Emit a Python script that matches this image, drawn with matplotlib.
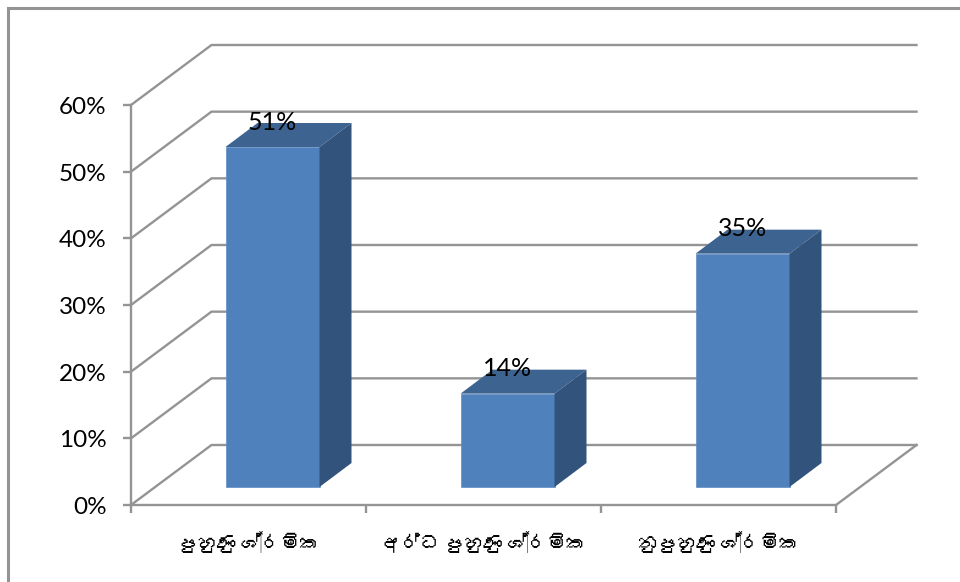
import matplotlib
matplotlib.use("Agg")
import matplotlib.pyplot as plt
from matplotlib import font_manager as fm
from matplotlib.ft2font import FT2Font
from matplotlib.lines import Line2D
from matplotlib.ticker import FixedLocator, NullFormatter
from matplotlib.transforms import ScaledTranslation

categories = ["පුහුණු ශ්‍රමික", "අර්ධ පුහුණු ශ්‍රමික", "නුපුහුණු ශ්‍රමික"]
values = [51, 14, 35]
value_labels = ["51%", "14%", "35%"]
y_ticks = [0, 10, 20, 30, 40, 50, 60]
y_tick_labels = ["0%", "10%", "20%", "30%", "40%", "50%", "60%"]

W, H = 960, 582
L, R, T, B = 131, 836, 105, 505
GRAY = "#949494"


def sinhala_families():
    """Names of any installed families that really contain Sinhala letters."""
    found = []
    for entry in fm.fontManager.ttflist:
        try:
            if 0x0DB4 in FT2Font(entry.fname).get_charmap() and entry.name not in found:
                found.append(entry.name)
        except Exception:
            pass
    return found


plt.rcParams["font.family"] = ["Lato"] + sinhala_families() + ["DejaVu Sans"]

fig = plt.figure(figsize=(W / 100, H / 100), dpi=100, facecolor="white")
ax = fig.add_axes([L / W, 1 - B / H, (R - L) / W, (B - T) / H])
ax.set_xlim(0, len(categories))
ax.set_ylim(0, 60)
ax.patch.set_alpha(0)

px = len(categories) / (R - L)   # data units per horizontal pixel
py = 60 / (B - T)                # data units per vertical pixel
wall_dx, wall_dy = 80.5 * px, 60 * py
gap_dx, gap_dy = 24 * px, 18 * py
bar_dx, bar_dy = 32 * px, 24 * py
bar_w = 0.4

# back wall gridlines and floor
for t in y_ticks:
    ax.plot([0, wall_dx, len(categories) + wall_dx], [t, t + wall_dy, t + wall_dy],
            color=GRAY, lw=1.7, clip_on=False, zorder=1, solid_joinstyle="miter")
ax.plot([len(categories), len(categories) + wall_dx], [0, wall_dy],
        color=GRAY, lw=1.7, clip_on=False, zorder=1)

# bars: front face, top and side
for i, v in enumerate(values):
    x0 = i + 0.5 - bar_w / 2 + gap_dx
    x1 = x0 + bar_w
    y0 = gap_dy
    y1 = y0 + v
    ax.bar(x0, v, width=bar_w, bottom=y0, align="edge", color="#4F81BD",
           edgecolor="#5F8CC4", linewidth=0.5, zorder=3, clip_on=False)
    ax.fill([x0, x1, x1 + bar_dx, x0 + bar_dx], [y1, y1, y1 + bar_dy, y1 + bar_dy],
            color="#3D6390", lw=0, zorder=3, clip_on=False)
    ax.fill([x1, x1 + bar_dx, x1 + bar_dx, x1], [y0, y0 + bar_dy, y1 + bar_dy, y1],
            color="#32547C", lw=0, zorder=3, clip_on=False)
    ax.text(i + 0.5 + gap_dx, y1 + 3.7, value_labels[i], ha="center", va="center",
            fontsize=18, color="black", zorder=5, clip_on=False)

for s in ("top", "right"):
    ax.spines[s].set_visible(False)
for s in ("left", "bottom"):
    ax.spines[s].set_color(GRAY)
    ax.spines[s].set_linewidth(1.7)
    ax.spines[s].set_zorder(2)

ax.set_yticks(y_ticks)
ax.set_yticklabels(y_tick_labels, fontsize=17.5, color="black", va="center")
ax.tick_params(axis="y", length=5.5, width=1.7, color=GRAY, pad=12)
nudge = ScaledTranslation(0, -2.5 / 100, fig.dpi_scale_trans)
for lbl in ax.get_yticklabels():
    lbl.set_transform(lbl.get_transform() + nudge)
ax.xaxis.set_major_locator(FixedLocator(list(range(len(categories) + 1))))
ax.xaxis.set_major_formatter(NullFormatter())
ax.set_xticks([i + 0.5 for i in range(len(categories))], minor=True)
ax.set_xticklabels(categories, minor=True, fontsize=14, color="black")
ax.tick_params(axis="x", which="major", length=5.5, width=1.7, color=GRAY)
ax.tick_params(axis="x", which="minor", length=0, pad=19)

# outer chart frame (top and left edges only)
fig.add_artist(Line2D([8 / W, 8 / W], [0, 1 - 8 / H], color=GRAY, lw=2.2,
                      solid_capstyle="projecting"))
fig.add_artist(Line2D([8 / W, 1], [1 - 8 / H, 1 - 8 / H], color=GRAY, lw=2.2,
                      solid_capstyle="projecting"))

fig.savefig("out.png", dpi=100, facecolor="white")
